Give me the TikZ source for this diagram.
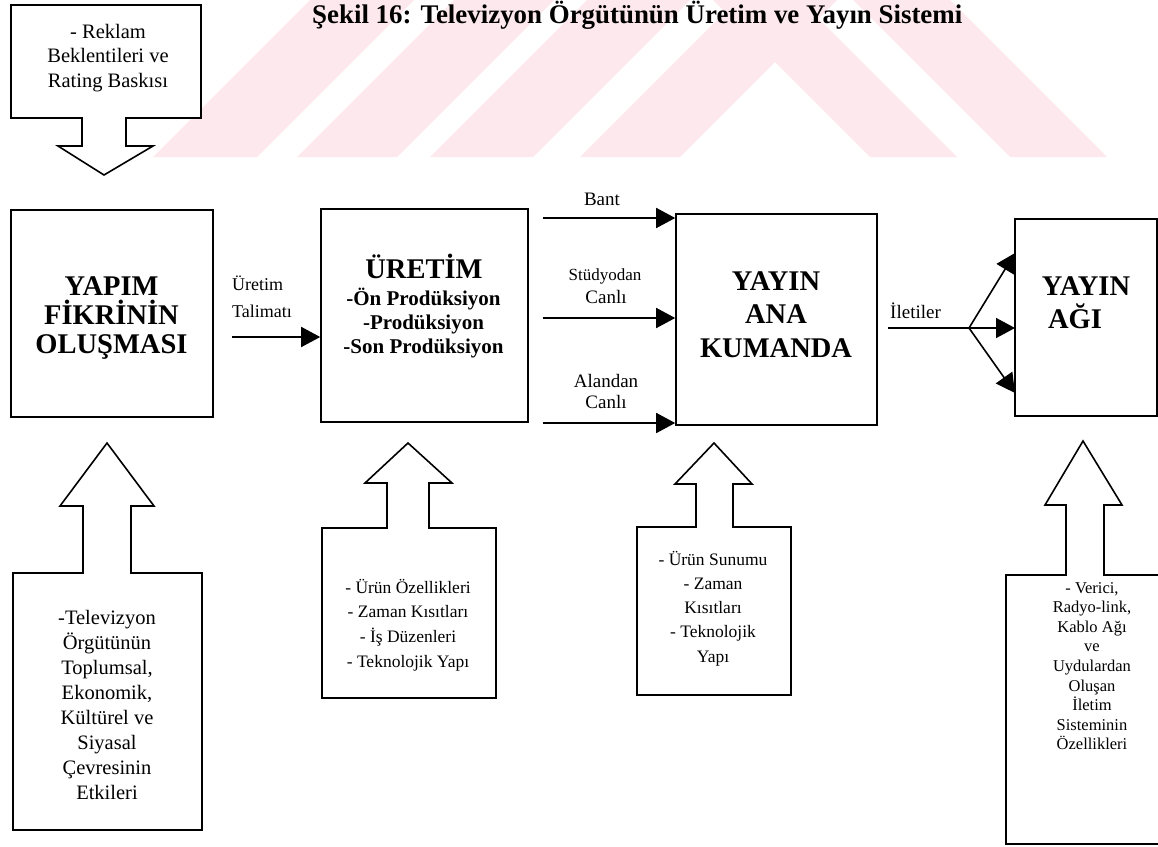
\documentclass[tikz,border=0pt]{standalone}
\usepackage{fontspec}
\setmainfont{Liberation Serif}
\usetikzlibrary{arrows.meta}
\definecolor{wmark}{RGB}{252,232,237}

% one text node per line, baselines dy apart
\newcommand\stacklines[6]{%
  \foreach \ln [count=\k] in {#6} {%
    \node[#2, anchor=base, inner sep=0pt] (#1-\k) at (#3, #4+\k*#5-#5) {\ln};}}

\begin{document}
\begin{tikzpicture}[x=1pt, y=-1pt, line join=miter,
  boxline/.style={draw, line width=1.6pt},
  mainbox/.style={boxline, fill=white, inner sep=0pt},
  outline/.style={boxline, fill=white},
  flow/.style={line width=1.6pt, -{Triangle[length=19pt, width=20pt]}},
  bigtitle/.style={font=\bfseries\fontsize{28.5}{30}\selectfont},
  subitem/.style={font=\bfseries\fontsize{21}{24}\selectfont},
  lbl/.style={font=\fontsize{19}{22}\selectfont},
  talbl/.style={font=\fontsize{18}{22}\selectfont},
  smalllbl/.style={font=\fontsize{17}{19}\selectfont},
  notes/.style={font=\fontsize{20.5}{24}\selectfont},
  notesb/.style={font=\fontsize{17.5}{22}\selectfont},
  notesc/.style={font=\fontsize{16.5}{20}\selectfont}]

\useasboundingbox (0,0) rectangle (1158,846);
\clip (0,0) rectangle (1158,846);

% background stripes
\begin{scope}[fill=wmark]
  \foreach \a/\b in {153/257, 297/397, 430/533, 580/680}
    \fill (\a,157) -- (\b,157) -- (\b+200,-43) -- (\a+200,-43) -- cycle;
  \foreach \a/\b in {870/957, 1010/1107}
    \fill (\a,157) -- (\b,157) -- (\b-200,-43) -- (\a-200,-43) -- cycle;
\end{scope}

% caption
\node[anchor=base west, inner sep=0pt, font=\bfseries\fontsize{26.9}{30}\selectfont]
  (caption) at (312,23) {Şekil 16: Televizyon Örgütünün Üretim ve Yayın Sistemi};

% advertising pressure, pointing down
\draw[outline] (11,5) -- (201,5) -- (201,118) -- (126,118) -- (126,146) -- (153,146)
  -- (104,175) -- (58,146) -- (82,146) -- (82,118) -- (11,118) -- cycle;
\stacklines{rek}{notes}{108}{38}{24.5}{- Reklam,Beklentileri ve,Rating Baskısı}

% main stages
\node[mainbox, minimum width=202pt, minimum height=207pt] (yapim) at (112,313.5) {};
\node[mainbox, minimum width=207pt, minimum height=213pt] (uretim) at (424.5,315.5) {};
\node[mainbox, minimum width=201pt, minimum height=211pt] (kumanda) at (776.5,319.5) {};
\node[mainbox, minimum width=142pt, minimum height=197pt] (ag) at (1086,317.5) {};

\stacklines{yp}{bigtitle}{111.5}{295}{29}{YAPIM,FİKRİNİN,OLUŞMASI}
\node[bigtitle, anchor=base, inner sep=0pt] (ur-title) at (424,278) {ÜRETİM};
\stacklines{ur}{subitem}{423.5}{305}{24}{-Ön Prodüksiyon,-Prodüksiyon,-Son Prodüksiyon}
\stacklines{km}{bigtitle}{776}{290}{33.5}{YAYIN,ANA,KUMANDA}
\node[bigtitle, anchor=base, inner sep=0pt] (ag-1) at (1086,295) {YAYIN};
\node[bigtitle, anchor=base, inner sep=0pt] (ag-2) at (1075,328) {AĞI};

% order to production
\coordinate (talimat) at (232,337);
\draw[flow] (talimat) -- (talimat -| uretim.west);
\node[talbl, anchor=base west, inner sep=0pt] (tal-1) at (232,290) {Üretim};
\node[talbl, anchor=base west, inner sep=0pt] (tal-2) at (232,317) {Talimatı};

% three feeds into master control
\coordinate (bant) at (543,218);
\coordinate (studyo) at (543,318);
\coordinate (alan) at (543,423);
\draw[flow] (bant) -- (bant -| kumanda.west);
\draw[flow] (studyo) -- (studyo -| kumanda.west);
\draw[flow] (alan) -- (alan -| kumanda.west);
\node[lbl, anchor=base, inner sep=0pt] (bant-l) at (602,205) {Bant};
\node[smalllbl, anchor=base, inner sep=0pt] (studyo-l1) at (605,280) {Stüdyodan};
\node[lbl, anchor=base, inner sep=0pt] (studyo-l2) at (606,303) {Canlı};
\node[lbl, anchor=base, inner sep=0pt] (alan-l1) at (606,387) {Alandan};
\node[lbl, anchor=base, inner sep=0pt] (alan-l2) at (606,408) {Canlı};

% signals to the broadcast network
\coordinate (ilet) at (888,328);
\coordinate (split) at (969,328);
\coordinate (tipup) at (1015,253);
\coordinate (tipmid) at (1015,328);
\coordinate (tipdown) at (1015,393);
\draw[line width=1.6pt] (ilet) -- (split);
\draw[flow] (split) -- (tipup);
\draw[flow] (split) -- (tipmid);
\draw[flow] (split) -- (tipdown);
\node[lbl, anchor=base west, inner sep=0pt] (ilet-l) at (890,318) {İletiler};

% environmental influences, pointing up
\draw[outline] (13,830) -- (13,573) -- (83,573) -- (83,506) -- (60,506) -- (107,443)
  -- (154,506) -- (131,506) -- (131,573) -- (202,573) -- (202,830) -- cycle;
\stacklines{env}{notes}{107}{624}{25.1}{-Televizyon,Örgütünün,{Toplumsal,},{Ekonomik,},Kültürel ve,Siyasal,Çevresinin,Etkileri}

\draw[outline] (322,698) -- (322,528) -- (387,528) -- (387,483) -- (365,483) -- (408,443)
  -- (452,483) -- (429,483) -- (429,528) -- (496,528) -- (496,698) -- cycle;
\stacklines{prod}{notesb}{408}{593}{24.7}{- Ürün Özellikleri,- Zaman Kısıtları,- İş Düzenleri,- Teknolojik Yapı}

\draw[outline] (637,695) -- (637,527) -- (696,527) -- (696,484) -- (675,484) -- (714,443)
  -- (752,484) -- (733,484) -- (733,527) -- (791,527) -- (791,695) -- cycle;
\stacklines{sun}{notesb}{713}{565}{24.3}{- Ürün Sunumu,- Zaman,Kısıtları,- Teknolojik,Yapı}

\draw[outline] (1006,844) -- (1006,575) -- (1066,575) -- (1066,505) -- (1045,505) -- (1083,441)
  -- (1122,505) -- (1104,505) -- (1104,575) -- (1170,575) -- (1170,844) -- cycle;
\stacklines{ilt}{notesc}{1092}{593}{19.6}{{- Verici,},{Radyo-link,},Kablo Ağı,ve,Uydulardan,Oluşan,İletim,Sisteminin,Özellikleri}

\end{tikzpicture}
\end{document}
